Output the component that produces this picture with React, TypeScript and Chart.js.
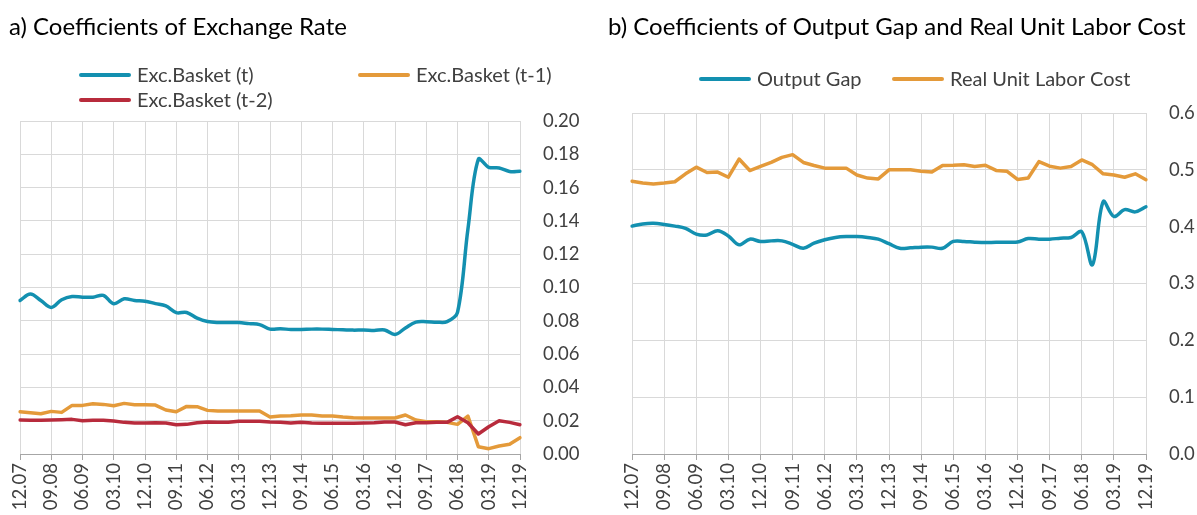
import React, { useEffect, useRef } from 'react';
import { Chart, registerables } from 'chart.js';

Chart.register(...registerables);

const FONT = 'Lato, "Open Sans", sans-serif';
const GRID = '#d9d9d9';
const AXIS = '#a6a6a6';
const TEXT = '#404040';
const BLUE = '#1390b0';
const ORANGE = '#e49a3a';
const RED = '#b82b3c';

const quarters = [
  '12.07', '03.08', '06.08', '09.08', '12.08', '03.09', '06.09', '09.09', '12.09',
  '03.10', '06.10', '09.10', '12.10', '03.11', '06.11', '09.11', '12.11',
  '03.12', '06.12', '09.12', '12.12', '03.13', '06.13', '09.13', '12.13',
  '03.14', '06.14', '09.14', '12.14', '03.15', '06.15', '09.15', '12.15',
  '03.16', '06.16', '09.16', '12.16', '03.17', '06.17', '09.17', '12.17',
  '03.18', '06.18', '09.18', '12.18', '03.19', '06.19', '09.19', '12.19',
];

const excBasketT = [
  0.0922, 0.0961, 0.0922, 0.0880, 0.0926, 0.0946, 0.0942, 0.0942, 0.0953,
  0.0903, 0.0932, 0.0922, 0.0918, 0.0903, 0.0889, 0.0849, 0.0850,
  0.0816, 0.0796, 0.0790, 0.0790, 0.0790, 0.0783, 0.0777, 0.0750,
  0.0752, 0.0748, 0.0748, 0.0750, 0.0750, 0.0748, 0.0746, 0.0744,
  0.0745, 0.0742, 0.0745, 0.0718, 0.0757, 0.0792, 0.0795, 0.0792,
  0.0795, 0.0850, 0.1350, 0.1770, 0.1722, 0.1718, 0.1697, 0.1698,
];

const excBasketT1 = [
  0.0254, 0.0248, 0.0242, 0.0256, 0.0250, 0.0292, 0.0292, 0.0302, 0.0298,
  0.0290, 0.0304, 0.0296, 0.0296, 0.0294, 0.0264, 0.0254, 0.0286,
  0.0284, 0.0262, 0.0258, 0.0258, 0.0258, 0.0258, 0.0258, 0.0222,
  0.0228, 0.0230, 0.0234, 0.0234, 0.0228, 0.0228, 0.0222, 0.0218,
  0.0216, 0.0216, 0.0216, 0.0216, 0.0234, 0.0204, 0.0194, 0.0194,
  0.0190, 0.0178, 0.0228, 0.0044, 0.0032, 0.0048, 0.0058, 0.0098,
];

const excBasketT2 = [
  0.0204, 0.0202, 0.0202, 0.0204, 0.0206, 0.0208, 0.0200, 0.0202, 0.0202,
  0.0198, 0.0190, 0.0186, 0.0186, 0.0188, 0.0186, 0.0176, 0.0178,
  0.0188, 0.0192, 0.0190, 0.0190, 0.0196, 0.0196, 0.0196, 0.0192,
  0.0190, 0.0186, 0.0190, 0.0186, 0.0184, 0.0184, 0.0184, 0.0184,
  0.0186, 0.0188, 0.0192, 0.0192, 0.0176, 0.0188, 0.0188, 0.0190,
  0.0190, 0.0224, 0.0188, 0.0120, 0.0164, 0.0200, 0.0190, 0.0176,
];

const outputGap = [
  0.401, 0.4047, 0.4058, 0.404, 0.401, 0.397, 0.387, 0.3855, 0.393,
  0.3837, 0.368, 0.378, 0.374, 0.375, 0.375, 0.369, 0.362,
  0.371, 0.377, 0.381, 0.3826, 0.3826, 0.381, 0.378, 0.370,
  0.362, 0.3628, 0.364, 0.364, 0.362, 0.374, 0.374, 0.3727,
  0.372, 0.3727, 0.3727, 0.373, 0.379, 0.378, 0.378, 0.3797,
  0.381, 0.391, 0.333, 0.444, 0.418, 0.430, 0.426, 0.435,
];

const realUnitLaborCost = [
  0.480, 0.477, 0.475, 0.4767, 0.479, 0.493, 0.5047, 0.4953, 0.496,
  0.487, 0.519, 0.4988, 0.506, 0.513, 0.522, 0.5267, 0.513,
  0.5076, 0.503, 0.503, 0.503, 0.491, 0.4855, 0.484, 0.500,
  0.500, 0.500, 0.4977, 0.496, 0.5076, 0.508, 0.509, 0.506,
  0.508, 0.499, 0.4977, 0.483, 0.4855, 0.5145, 0.5064, 0.503,
  0.506, 0.5174, 0.509, 0.493, 0.491, 0.487, 0.493, 0.4826,
];

type LegendSpot = { ds: number; x: number; y: number };

function overlayPlugin(title: string, titleX: number, legend: LegendSpot[]) {
  return {
    id: 'overlay',
    afterDraw(chart: any) {
      const ctx = chart.ctx as CanvasRenderingContext2D;
      ctx.save();
      ctx.fillStyle = '#000';
      ctx.font = `24px ${FONT}`;
      ctx.textAlign = 'left';
      ctx.textBaseline = 'alphabetic';
      ctx.fillText(title, titleX, 35);
      ctx.font = `20px ${FONT}`;
      ctx.textBaseline = 'middle';
      legend.forEach(({ ds, x, y }) => {
        const d = chart.data.datasets[ds];
        ctx.strokeStyle = d.borderColor;
        ctx.lineWidth = 4;
        ctx.lineCap = 'round';
        ctx.beginPath();
        ctx.moveTo(x + 2, y);
        ctx.lineTo(x + 50, y);
        ctx.stroke();
        ctx.fillStyle = TEXT;
        ctx.fillText(d.label, x + 58, y + 1);
      });
      ctx.restore();
    },
  };
}

type Series = { label: string; data: number[]; color: string; tension: number; order: number };

function makeConfig(opts: {
  series: Series[];
  yMax: number;
  yStep: number;
  decimals: number;
  padLeft: number;
  padTop: number;
  yWidth: number;
  yPad: number;
  plugin: any;
}): any {
  return {
    type: 'line',
    data: {
      labels: quarters,
      datasets: opts.series.map((s) => ({
        label: s.label,
        data: s.data,
        borderColor: s.color,
        backgroundColor: s.color,
        borderWidth: 3.5,
        pointRadius: 0,
        tension: s.tension,
        fill: false,
        order: s.order,
        borderCapStyle: 'round',
        borderJoinStyle: 'round',
      })),
    },
    options: {
      responsive: false,
      animation: false,
      layout: { padding: { left: opts.padLeft, top: opts.padTop, right: 0, bottom: 0 } },
      plugins: {
        legend: { display: false },
        title: { display: false },
        tooltip: { enabled: false },
      },
      scales: {
        x: {
          type: 'category',
          offset: false,
          grid: {
            offset: false,
            color: (c: any) => (c.index % 3 === 0 ? GRID : 'rgba(0,0,0,0)'),
            tickColor: (c: any) => (c.index % 3 === 0 ? AXIS : 'rgba(0,0,0,0)'),
            tickLength: 6,
            drawTicks: true,
          },
          border: { color: AXIS, width: 1 },
          ticks: {
            autoSkip: false,
            maxRotation: 90,
            minRotation: 90,
            padding: 3,
            color: TEXT,
            font: { family: FONT, size: 18.5 },
            callback: (_v: any, i: number) => (i % 3 === 0 ? quarters[i] : ''),
          },
          afterFit: (s: any) => {
            s.height = 61;
          },
        },
        y: {
          position: 'right',
          min: 0,
          max: opts.yMax,
          grid: { color: GRID, drawTicks: false },
          border: { display: false },
          ticks: {
            stepSize: opts.yStep,
            padding: opts.yPad,
            color: TEXT,
            font: { family: FONT, size: 18.5 },
            callback: (v: any) => Number(v).toFixed(opts.decimals),
          },
          afterFit: (s: any) => {
            s.width = opts.yWidth;
          },
        },
      },
    },
    plugins: [opts.plugin],
  };
}

function Panel(props: { width: number; config: any }) {
  const ref = useRef<HTMLCanvasElement | null>(null);
  useEffect(() => {
    if (!ref.current) return;
    const chart = new Chart(ref.current, props.config);
    return () => chart.destroy();
  }, []);
  return (
    <canvas
      ref={ref}
      width={props.width}
      height={515}
      style={{ display: 'block', width: props.width, height: 515 }}
    />
  );
}

export default function App() {
  const configA = makeConfig({
    series: [
      { label: 'Exc.Basket (t)', data: excBasketT, color: BLUE, tension: 0.35, order: 3 },
      { label: 'Exc.Basket (t-1)', data: excBasketT1, color: ORANGE, tension: 0, order: 2 },
      { label: 'Exc.Basket (t-2)', data: excBasketT2, color: RED, tension: 0, order: 1 },
    ],
    yMax: 0.2,
    yStep: 0.02,
    decimals: 2,
    padLeft: 20,
    padTop: 121,
    yWidth: 78,
    yPad: 23,
    plugin: overlayPlugin('a) Coefficients of Exchange Rate', 9, [
      { ds: 0, x: 79, y: 75 },
      { ds: 1, x: 358, y: 75 },
      { ds: 2, x: 79, y: 100 },
    ]),
  });
  const configB = makeConfig({
    series: [
      { label: 'Output Gap', data: outputGap, color: BLUE, tension: 0.35, order: 2 },
      { label: 'Real Unit Labor Cost', data: realUnitLaborCost, color: ORANGE, tension: 0, order: 1 },
    ],
    yMax: 0.6,
    yStep: 0.1,
    decimals: 1,
    padLeft: 34,
    padTop: 113,
    yWidth: 51,
    yPad: 23,
    plugin: overlayPlugin('b) Coefficients of Output Gap and Real Unit Labor Cost', 10, [
      { ds: 0, x: 101, y: 79 },
      { ds: 1, x: 294, y: 79 },
    ]),
  });
  return (
    <div
      style={{
        position: 'absolute',
        left: 0,
        top: 0,
        width: 1197,
        height: 515,
        overflow: 'hidden',
        display: 'flex',
        background: '#fff',
      }}
    >
      <Panel width={598} config={configA} />
      <Panel width={599} config={configB} />
    </div>
  );
}
